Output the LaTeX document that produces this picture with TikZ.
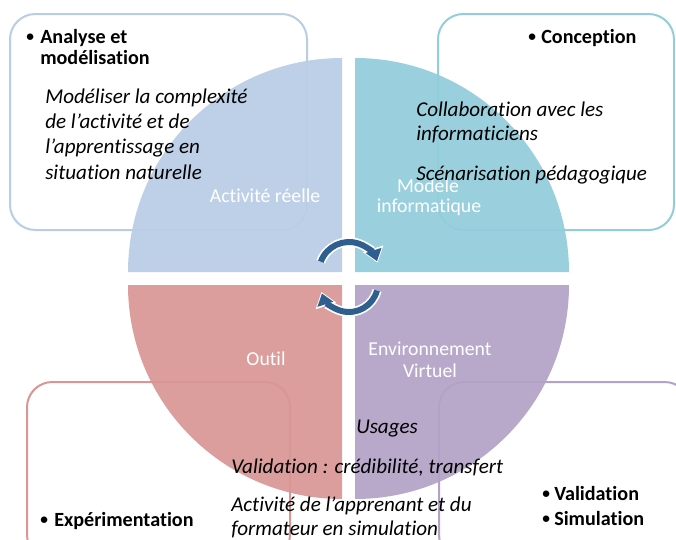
\documentclass[tikz,border=0pt]{standalone}
\usepackage{fontspec}
\setmainfont{Carlito}[Ligatures=NoCommon]
\usetikzlibrary{arrows.meta}
\definecolor{qblue}{HTML}{B9CDE5}
\definecolor{qteal}{HTML}{92CDDC}
\definecolor{qpink}{HTML}{D99694}
\definecolor{qpurple}{HTML}{B3A2C7}
\definecolor{cycblue}{HTML}{2F5F8F}
\newcommand{\smallbul}{\raisebox{1.2pt}{\fontsize{11.5}{12}\selectfont\textbullet}}
\begin{document}
\begin{tikzpicture}[x=0.75pt,y=-0.75pt,
  txt/.style={inner sep=0pt, anchor=base west},
  ital/.style={txt, font=\fontsize{15.8}{18}\selectfont\itshape},
  head/.style={txt, font=\fontsize{15.1}{18}\selectfont\bfseries},
  lab/.style={inner sep=0pt, anchor=base, text=white, font=\fontsize{14.8}{17}\selectfont},
  box/.style={line width=1.5pt, rounded corners=19pt},
  quad/.style={fill opacity=0.92},
  cycout/.style={draw=white, line width=7pt, -{Triangle[length=11pt,width=15.5pt]}},
  cycin/.style={draw=cycblue, line width=4.5pt, shorten >=1.2pt, -{Triangle[length=8.5pt,width=12pt]}}]
\useasboundingbox (0,0) rectangle (676,540);
\clip (0,0) rectangle (676,540);
\fill[white] (0,0) rectangle (676,540);
% boxes
\draw[box, draw=qblue] (10,14) rectangle (307,230);
\draw[box, draw=qteal] (438,14) rectangle (674,230);
\draw[box, draw=qpink] (27,382) rectangle (290,560);
\draw[box, draw=qpurple] (439,382) rectangle (690,560);
% quadrants
\fill[qblue, quad] (342,272) -- (128,272) arc[start angle=180, end angle=270, radius=214] -- cycle;
\fill[qteal, quad] (355,272) -- (355,58) arc[start angle=270, end angle=360, radius=214] -- cycle;
\fill[qpink, quad] (342,285) -- (342,499) arc[start angle=90, end angle=180, radius=214] -- cycle;
\fill[qpurple, quad] (355,285) -- (569,285) arc[start angle=0, end angle=90, radius=214] -- cycle;
% cycle arrows
\draw[cycout, shift={(349,272)}] (200:30) arc[start angle=200, end angle=342, radius=30];
\draw[cycin, shift={(349,272)}] (200:30) arc[start angle=200, end angle=342, radius=30];
\draw[cycout, shift={(349,283)}] (15:29) arc[start angle=15, end angle=162, radius=29];
\draw[cycin, shift={(349,283)}] (15:29) arc[start angle=15, end angle=162, radius=29];
% quadrant labels
\node[lab] (lreal) at (265,202) {Activité réelle};
\node[lab] (lmod1) at (428,192) {Modèle};
\node[lab] (lmod2) at (429,212) {informatique};
\node[lab] (lout) at (266,365) {Outil};
\node[lab] (lenv1) at (430,355) {Environnement};
\node[lab] (lenv2) at (430,377) {Virtuel};
% top-left box text
\node[head] (b1) at (26,43) {\smallbul};
\node[head] (h1a) at (40,43) {Analyse et};
\node[head] (h1b) at (40,64) {modélisation};
\node[ital] (t1a) at (45,103) {Modéliser la complexité};
\node[ital] (t1b) at (45,128) {de l’activité et de};
\node[ital] (t1c) at (45,153) {l’apprentissage en};
\node[ital] (t1d) at (45,179) {situation naturelle};
% top-right box text
\node[head] (b2) at (528,43) {\smallbul};
\node[head] (h2) at (541,43) {Conception};
\node[ital] (t2a) at (416,116) {Collaboration avec les};
\node[ital] (t2b) at (416,140) {informaticiens};
\node[ital] (t2c) at (416,180) {Scénarisation pédagogique};
% bottom texts
\node[ital] (t3a) at (356,433) {Usages};
\node[ital] (t3b) at (231,473) {Validation : crédibilité, transfert};
\node[ital] (t3c) at (231,511) {Activité de l’apprenant et du};
\node[ital] (t3d) at (231,535) {formateur en simulation};
\node[head] (b3) at (40,526) {\smallbul};
\node[head] (h3) at (54,526) {Expérimentation};
\node[head] (b4) at (542,500) {\smallbul};
\node[head] (h4a) at (554,500) {Validation};
\node[head] (b5) at (542,525) {\smallbul};
\node[head] (h4b) at (554,525) {Simulation};
\end{tikzpicture}
\end{document}
